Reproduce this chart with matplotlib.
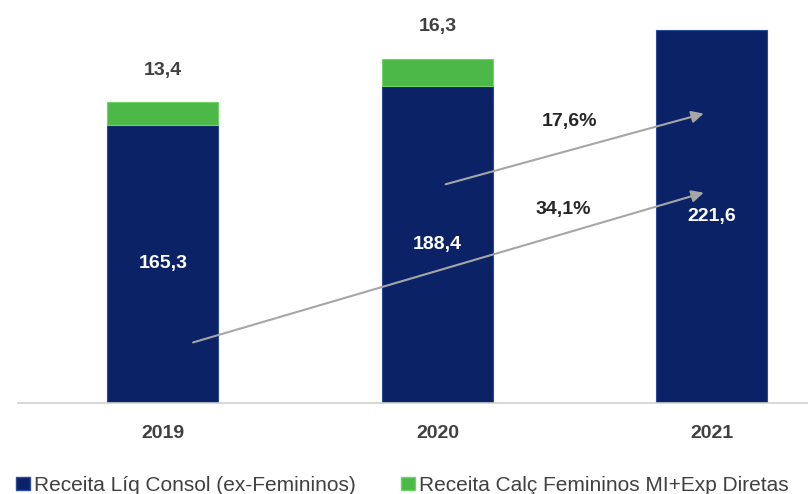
import matplotlib
matplotlib.use('Agg')
import matplotlib.pyplot as plt
from matplotlib.patches import Patch

# Data
years = ['2019', '2020', '2021']
receita_liq = [165.3, 188.4, 221.6]
receita_fem = [13.4, 16.3, 0.0]
legend_labels = ['Receita Líq Consol (ex-Femininos)',
                 'Receita Calç Femininos MI+Exp Diretas']
growth_labels = ['34,1%', '17,6%']
# (start x, start height, end x, end height) in data units
growth_arrows = [(0.11, 36, 1.97, 125), (1.03, 130, 1.97, 172)]
growth_label_pos = [(1.46, 115), (1.48, 167)]

navy = '#0b2266'
green = '#4cb848'
grey_txt = '#404040'

plt.rcParams['font.family'] = ['Liberation Sans', 'DejaVu Sans']

fig = plt.figure(figsize=(8.08, 4.94), dpi=100)
ax = fig.add_axes([18 / 808, 91 / 494, 790 / 808, 403 / 494])

x = list(range(len(years)))
width = 0.404
ax.bar(x, receita_liq, width, color=navy, edgecolor='#2a4a9a', linewidth=0.8)
fem_x = [i for i, v in zip(x, receita_fem) if v > 0]
ax.bar(fem_x, [receita_fem[i] for i in fem_x], width,
       bottom=[receita_liq[i] for i in fem_x], color=green,
       edgecolor='#6fd36a', linewidth=0.8)

# values inside blue bars
for i, v in enumerate(receita_liq):
    ax.text(i, v / 2, ('%.1f' % v).replace('.', ','), ha='center',
            va='center', color='white', fontsize=14, fontweight='bold')

# values above green bars
for i in fem_x:
    v = receita_fem[i]
    ax.annotate(('%.1f' % v).replace('.', ','),
                (i, receita_liq[i] + v), xytext=(0, 23),
                textcoords='offset points', ha='center', va='center',
                color=grey_txt, fontsize=14, fontweight='bold')

# growth arrows
for (x0, y0, x1, y1) in growth_arrows:
    ax.annotate('', xy=(x1, y1), xytext=(x0, y0),
                arrowprops=dict(arrowstyle='-|>', color='#a6a6a6', lw=1.5,
                                mutation_scale=18, shrinkA=0, shrinkB=0))
for (lx, ly), lab in zip(growth_label_pos, growth_labels):
    ax.text(lx, ly, lab, ha='center', va='center',
            color='#262626', fontsize=14, fontweight='bold')

ax.set_xlim(-0.528, 2.35)
ax.set_ylim(0, 239.5)
ax.set_yticks([])
ax.set_xticks(x)
ax.set_xticklabels(years, fontsize=14, fontweight='bold', color=grey_txt)
ax.tick_params(axis='x', length=0, pad=16)
for s in ['top', 'right', 'left']:
    ax.spines[s].set_visible(False)
ax.spines['bottom'].set_color('#d0d0d0')
ax.spines['bottom'].set_linewidth(1.2)

handles = [Patch(facecolor=navy, edgecolor='#2a4a9a'),
           Patch(facecolor=green, edgecolor='#6fd36a')]
for h, lab, x0 in zip(handles, legend_labels, [16 / 808, 401 / 808]):
    fig.legend([h], [lab], loc='center left', bbox_to_anchor=(x0, 9 / 494),
               frameon=False, fontsize=15, handlelength=0.65,
               handleheight=0.6, handletextpad=0.2, borderaxespad=0,
               borderpad=0, labelcolor=grey_txt)

fig.savefig('out.png', dpi=100)
